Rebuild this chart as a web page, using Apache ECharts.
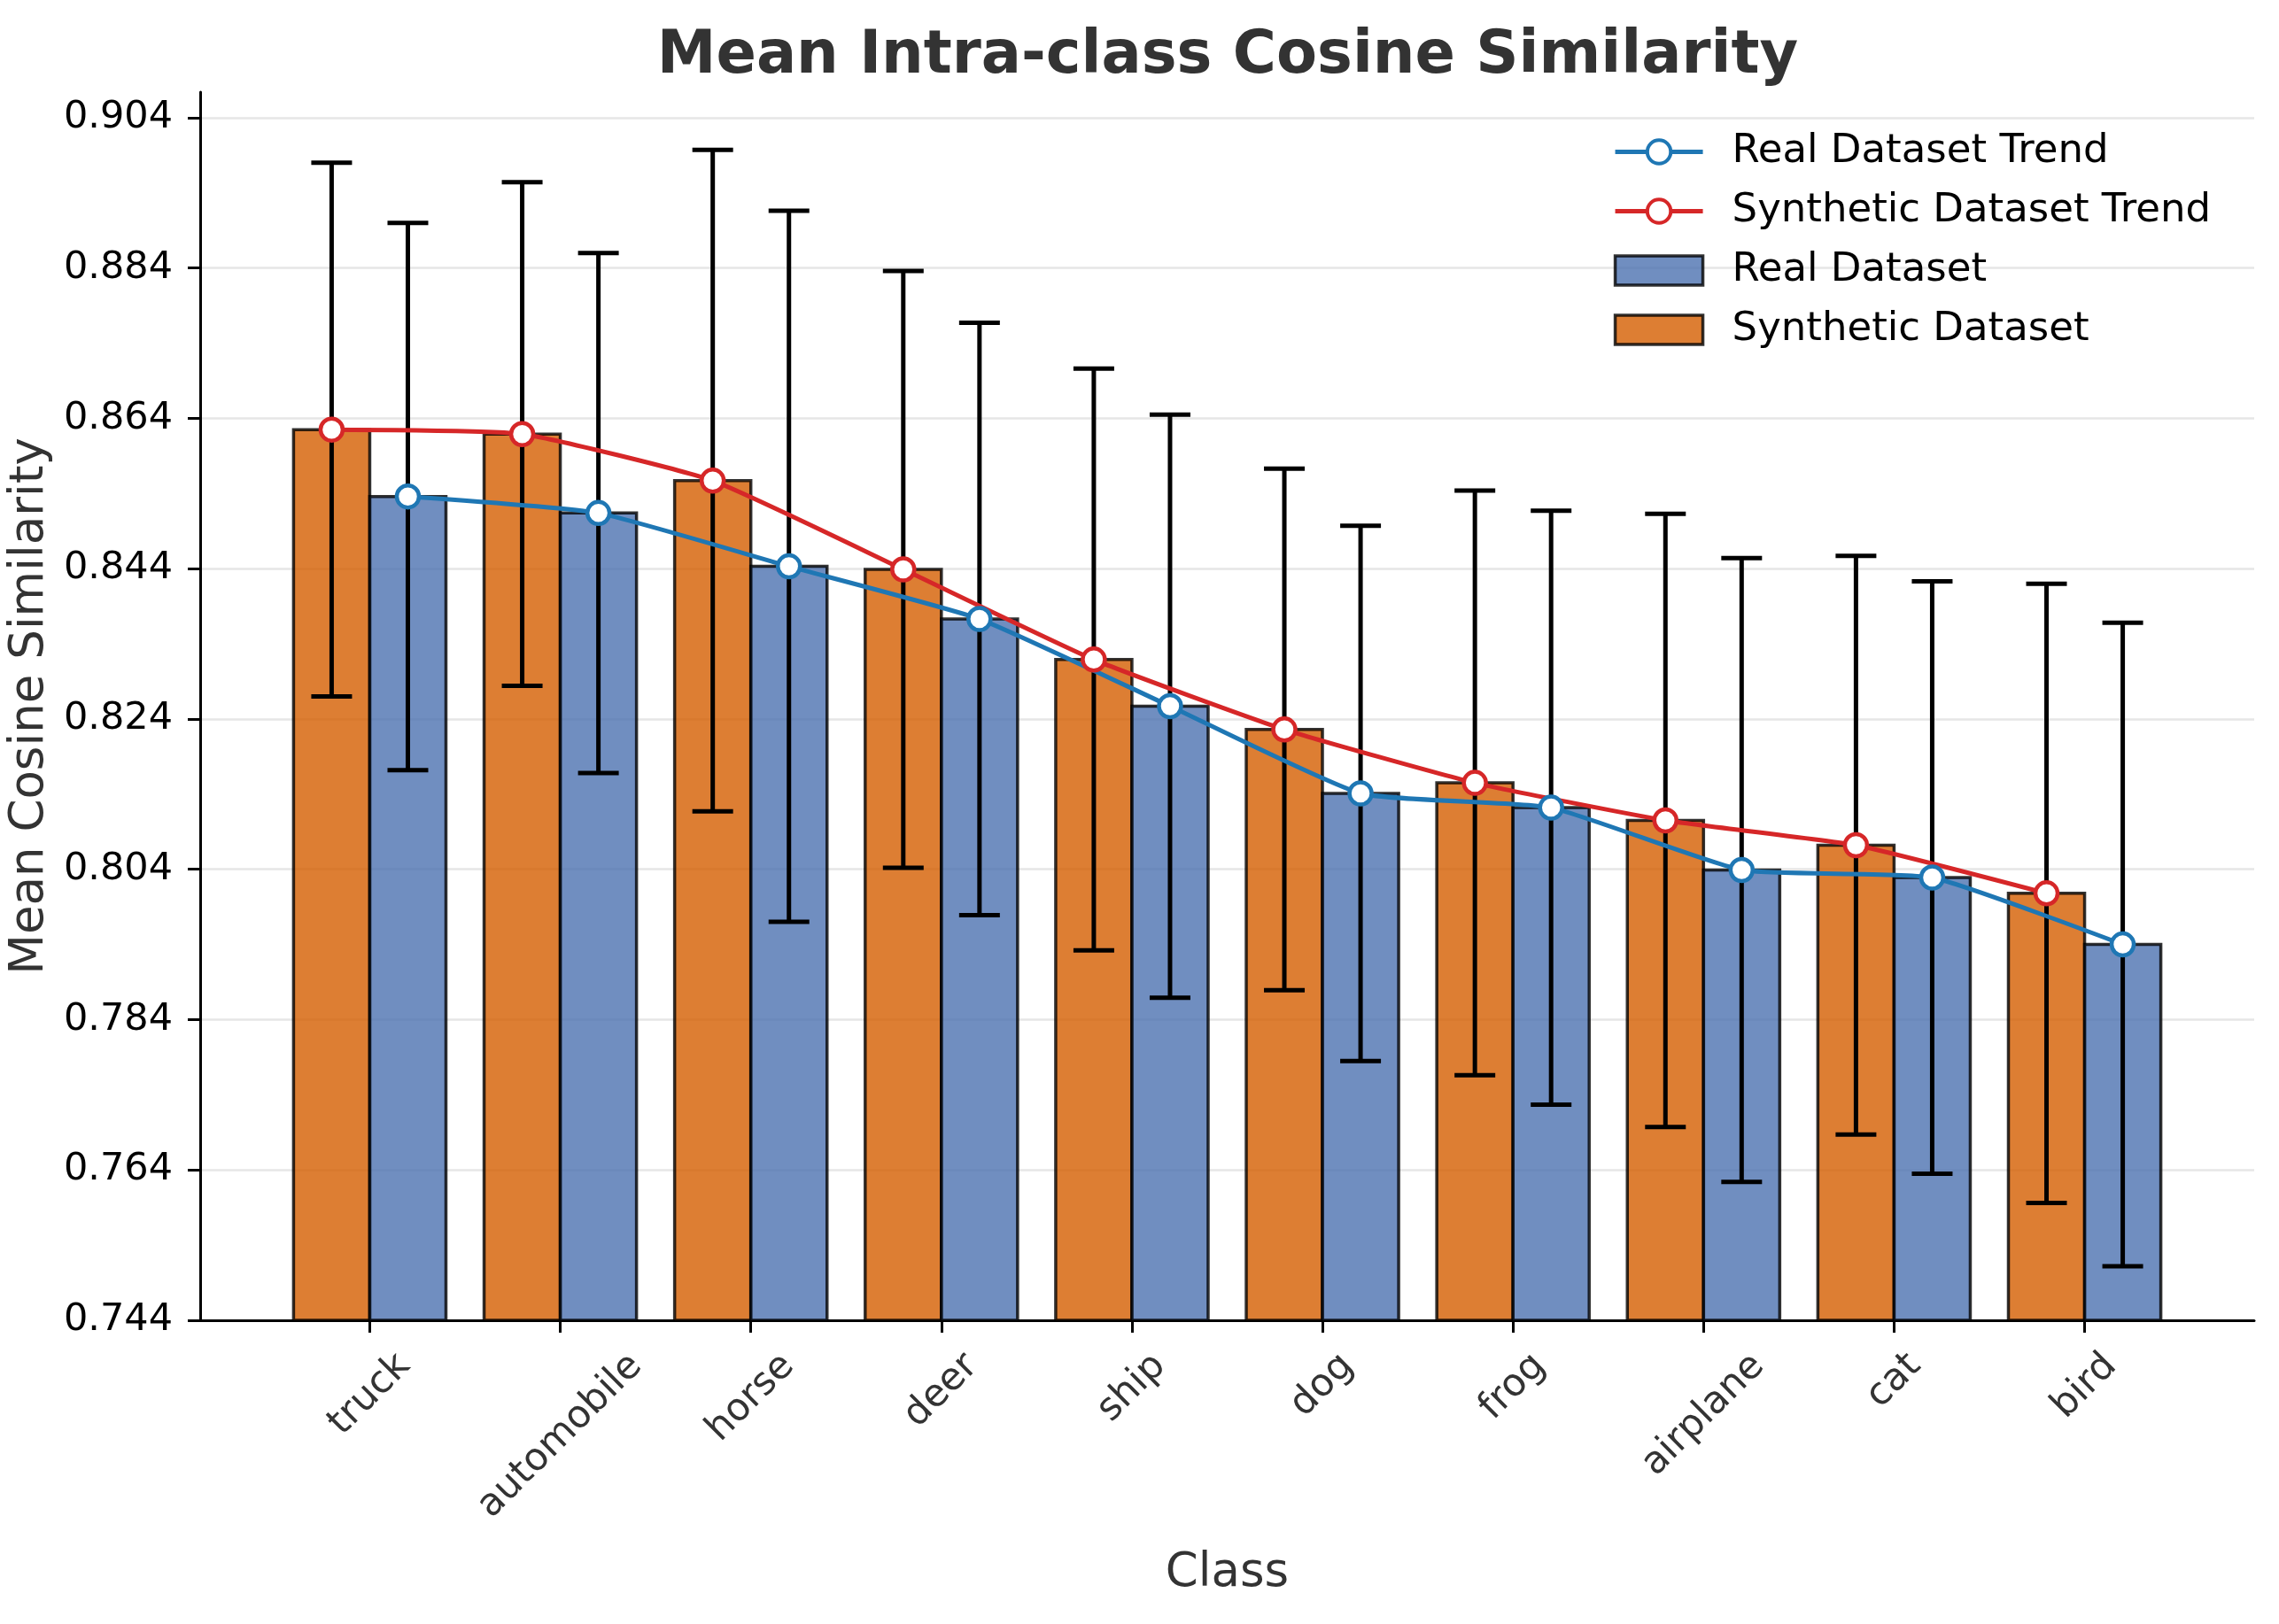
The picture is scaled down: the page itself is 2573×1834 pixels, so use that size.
<!DOCTYPE html>
<html>
<head>
<meta charset="utf-8">
<title>Mean Intra-class Cosine Similarity</title>
<script src="https://cdn.jsdelivr.net/npm/echarts@6/dist/echarts.min.js"></script>
<style>
  html, body { margin: 0; padding: 0; background: #fff; }
  #main { width: 2573px; height: 1834px; }
</style>
</head>
<body>
<div id="main"></div>
<script>
// classes, sorted by synthetic mean
const classes = ['truck', 'automobile', 'horse', 'deer', 'ship', 'dog', 'frog', 'airplane', 'cat', 'bird'];
const realMean = [0.8536, 0.8514, 0.8443, 0.8373, 0.8257, 0.8141, 0.8122, 0.8039, 0.8029, 0.7940];
const realStd = [0.0364, 0.0346, 0.0473, 0.0394, 0.0388, 0.0356, 0.0395, 0.0415, 0.0394, 0.0428];
const synMean = [0.8625, 0.8619, 0.8557, 0.8439, 0.8319, 0.8226, 0.8155, 0.8105, 0.8072, 0.8008];
const synStd = [0.0355, 0.0335, 0.0440, 0.0397, 0.0387, 0.0347, 0.0389, 0.0408, 0.0385, 0.0412];
const yTicks = [0.744, 0.764, 0.784, 0.804, 0.824, 0.844, 0.864, 0.884, 0.904];
const xTicks = [0, 1, 2, 3, 4, 5, 6, 7, 8, 9];

const yMin = 0.744, yMax = 0.9074;
const FONT = 'DejaVu Sans';
const orange = '#d55e00', blue = '#4c72b0';
const redLine = '#d62728', blueLine = '#1f77b4';

// used to centre the rotated class labels like matplotlib does
const ctx = document.createElement('canvas').getContext('2d');
ctx.font = '43px "DejaVu Sans"';

function barSeries(name, means, offset, color) {
    return {
        name: name,
        type: 'custom',
        z: 2,
        itemStyle: { color: color, borderColor: '#000', borderWidth: 3.5, opacity: 0.8 },
        data: means.map((m, i) => [i, m]),
        renderItem(params, api) {
            const x = api.value(0) + offset;
            const a = api.coord([x - 0.2, api.value(1)]);
            const b = api.coord([x + 0.2, yMin]);
            return {
                type: 'rect',
                shape: { x: a[0], y: a[1], width: b[0] - a[0], height: b[1] - a[1] },
                style: { fill: color, stroke: '#000', lineWidth: 3.5, opacity: 0.8 }
            };
        }
    };
}

function errSeries(means, stds, offset) {
    return {
        type: 'custom',
        z: 3,
        silent: true,
        data: means.map((m, i) => [i, m - stds[i], m + stds[i]]),
        renderItem(params, api) {
            const x = api.value(0) + offset;
            const lo = api.coord([x, api.value(1)]);
            const hi = api.coord([x, api.value(2)]);
            const cap = 23;
            const st = { stroke: '#000', lineWidth: 5 };
            return {
                type: 'group',
                children: [
                    { type: 'line', shape: { x1: lo[0], y1: lo[1], x2: hi[0], y2: hi[1] }, style: st },
                    { type: 'line', shape: { x1: lo[0] - cap, y1: lo[1], x2: lo[0] + cap, y2: lo[1] }, style: st },
                    { type: 'line', shape: { x1: hi[0] - cap, y1: hi[1], x2: hi[0] + cap, y2: hi[1] }, style: st }
                ]
            };
        }
    };
}

function trendSeries(name, means, offset, color) {
    return {
        name: name,
        type: 'line',
        z: 4,
        smooth: 0.15,
        symbol: 'circle',
        symbolSize: 25,
        itemStyle: { color: '#fff', borderColor: color, borderWidth: 4.5 },
        lineStyle: { color: color, width: 5 },
        data: means.map((m, i) => [i + offset, m])
    };
}

let myChart = echarts.init(document.getElementById('main'));
let option = {
    backgroundColor: '#fff',
    animation: false,
    textStyle: { fontFamily: FONT },
    title: {
        text: 'Mean Intra-class Cosine Similarity',
        left: 1381,
        top: 26,
        textAlign: 'center',
        textStyle: { fontSize: 67, fontWeight: 'bold', color: '#333', fontFamily: FONT }
    },
    legend: {
        orient: 'vertical',
        right: 72,
        top: 144,
        align: 'left',
        itemWidth: 99,
        itemHeight: 33,
        itemGap: 22,
        lineStyle: { width: 5 },
        textStyle: { fontSize: 45, color: '#000', fontFamily: FONT, padding: [0, 0, 0, 28] },
        data: [
            { name: 'Real Dataset Trend', itemStyle: { borderWidth: 4 } },
            { name: 'Synthetic Dataset Trend', itemStyle: { borderWidth: 4 } },
            { name: 'Real Dataset', icon: 'rect', itemStyle: { borderWidth: 3.5 } },
            { name: 'Synthetic Dataset', icon: 'rect', itemStyle: { borderWidth: 3.5 } }
        ]
    },
    grid: { left: 218, right: 28, top: 104, bottom: 343 },
    xAxis: {
        type: 'value',
        min: -0.89,
        max: 9.89,
        name: 'Class',
        nameLocation: 'middle',
        nameGap: 260,
        nameTextStyle: { fontSize: 53, color: '#333', fontFamily: FONT },
        axisLine: { show: true, onZero: false, lineStyle: { color: '#000', width: 3 } },
        axisTick: { show: true, length: 14, customValues: xTicks, lineStyle: { color: '#000', width: 3 } },
        axisLabel: { show: false },
        splitLine: { show: false }
    },
    yAxis: {
        type: 'value',
        min: yMin,
        max: yMax,
        interval: 0.02,
        name: 'Mean Cosine Similarity',
        nameLocation: 'middle',
        nameGap: 160,
        nameTextStyle: { fontSize: 53, color: '#333', fontFamily: FONT },
        axisLine: { show: true, onZero: false, lineStyle: { color: '#000', width: 3 } },
        axisTick: { show: true, length: 14, customValues: yTicks, lineStyle: { color: '#000', width: 3 } },
        axisLabel: {
            customValues: yTicks,
            formatter: v => v.toFixed(3),
            fontSize: 43,
            color: '#000',
            margin: 31,
            fontFamily: FONT
        },
        splitLine: { show: true, lineStyle: { color: '#e6e6e6', width: 2.5 } }
    },
    series: [
        barSeries('Synthetic Dataset', synMean, -0.2, orange),
        barSeries('Real Dataset', realMean, 0.2, blue),
        errSeries(synMean, synStd, -0.2),
        errSeries(realMean, realStd, 0.2),
        trendSeries('Real Dataset Trend', realMean, 0.2, blueLine),
        trendSeries('Synthetic Dataset Trend', synMean, -0.2, redLine),
        {
            // rotated class labels, centred under each tick
            type: 'custom',
            silent: true,
            clip: false,
            data: xTicks.map(i => [i, yMin]),
            renderItem(params, api) {
                const i = api.value(0);
                const p = api.coord([i, yMin]);
                const w = ctx.measureText(classes[i]).width;
                return {
                    type: 'text',
                    x: p[0],
                    y: p[1] + 45 + 0.354 * w,
                    rotation: Math.PI / 4,
                    style: {
                        text: classes[i],
                        fill: '#333',
                        font: '43px "DejaVu Sans"',
                        align: 'center',
                        verticalAlign: 'middle'
                    }
                };
            }
        }
    ]
};
myChart.setOption(option);
</script>
</body>
</html>
